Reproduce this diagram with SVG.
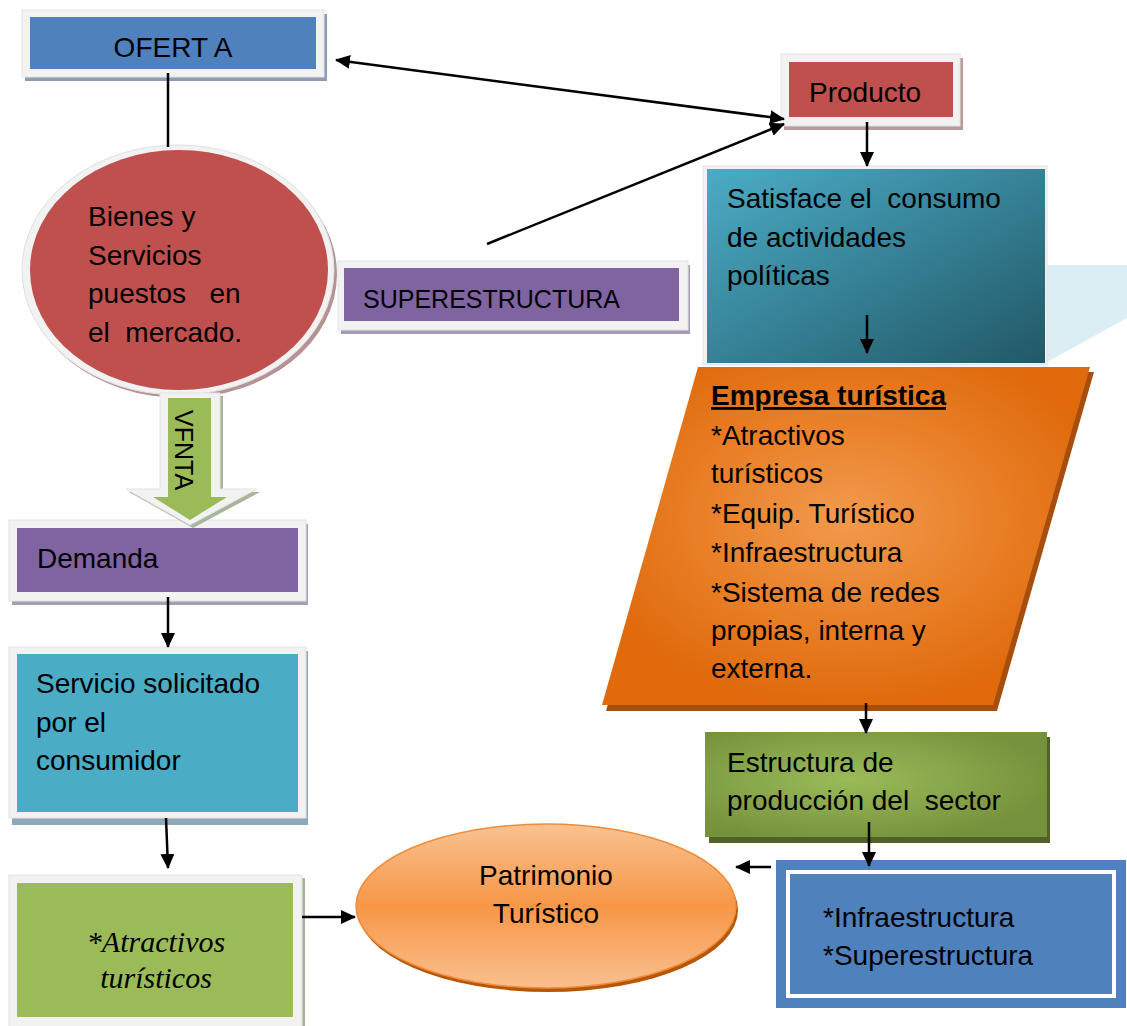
<svg xmlns="http://www.w3.org/2000/svg" width="1127" height="1026" viewBox="0 0 1127 1026">
<style>
text{font-family:"Liberation Sans",Arial,sans-serif;font-size:28px;fill:#000;white-space:pre}
.up{font-size:25px}
.it{font-family:"Liberation Serif","Times New Roman",serif;font-style:italic;font-size:30px}
.frame{fill:#f2f2f2;stroke:#e3e3e3;stroke-width:1}
.conn{stroke:#000;stroke-width:2.5;fill:none}
</style>
<defs>
<marker id="ah" markerUnits="userSpaceOnUse" markerWidth="15" markerHeight="14" refX="14" refY="7" orient="auto-start-reverse" viewBox="0 0 15 14">
<path d="M0,0 L15,7 L0,14 z" fill="#000"/>
</marker>
<linearGradient id="gSat" x1="0" y1="0" x2="1" y2="1">
<stop offset="0" stop-color="#4bacc6"/>
<stop offset="1" stop-color="#215867"/>
</linearGradient>
<radialGradient id="gEmp" cx="0.5" cy="0.45" r="0.55">
<stop offset="0" stop-color="#f29a4d"/>
<stop offset="0.6" stop-color="#e87d24"/>
<stop offset="1" stop-color="#e06a0c"/>
</radialGradient>
<radialGradient id="gEst" cx="0.42" cy="0.45" r="0.6">
<stop offset="0" stop-color="#9bbb59"/>
<stop offset="1" stop-color="#76923c"/>
</radialGradient>
<linearGradient id="gPat" x1="0" y1="0" x2="0" y2="1">
<stop offset="0" stop-color="#f9c292"/>
<stop offset="0.5" stop-color="#f79646"/>
<stop offset="1" stop-color="#fabf8f"/>
</linearGradient>
</defs>

<g id="node-oferta">
<rect x="25" y="14" width="302" height="67" fill="#8e9cb2"/>
<rect class="frame" x="22" y="10" width="302" height="67"/>
<rect x="30" y="17" width="286" height="52" fill="#4f81bd"/>
<text x="173" y="57" text-anchor="middle" font-size="26">OFERT A</text>
</g>

<g id="node-producto">
<rect x="784" y="58" width="179" height="72" fill="#b89a9b"/>
<rect class="frame" x="781" y="54" width="179" height="72"/>
<rect x="789" y="62" width="164" height="55" fill="#c0504d"/>
<text x="809" y="102">Producto</text>
</g>

<g id="node-satisface">
<polygon points="1047,265 1127,265 1127,318 1047,362" fill="#dbeef4"/>
<rect class="frame" x="703" y="166" width="344" height="199"/>
<rect x="707" y="169" width="338" height="194" fill="url(#gSat)"/>
<text x="727" y="208">Satisface el  consumo</text>
<text x="727" y="247">de actividades</text>
<text x="727" y="285">políticas</text>
</g>

<g id="node-superestructura">
<rect x="341" y="265" width="349" height="69" fill="#a49bb2"/>
<rect class="frame" x="338" y="261" width="350" height="69"/>
<rect x="344" y="268" width="335" height="53" fill="#8064a2"/>
<text class="up" x="363" y="308">SUPERESTRUCTURA</text>
</g>

<g id="node-bienes">
<ellipse cx="181" cy="274" rx="156" ry="124" fill="#b59293"/>
<ellipse cx="178" cy="270" rx="156" ry="125" fill="#f2f2f2" stroke="#e0e0e0"/>
<ellipse cx="179" cy="270" rx="149" ry="120" fill="#c0504d"/>
<text x="88" y="226">Bienes y</text>
<text x="88" y="265">Servicios</text>
<text x="88" y="303">puestos   en</text>
<text x="88" y="342">el  mercado.</text>
</g>

<g id="node-empresa">
<polygon points="702,372 1094,372 997,711 606,711" fill="#a54e0d"/>
<polygon points="698,367 1090,367 993,705 602,705" fill="url(#gEmp)"/>
<text x="711" y="405" font-weight="bold" text-decoration="underline">Empresa turística</text>
<text x="711" y="445">*Atractivos</text>
<text x="711" y="483">turísticos</text>
<text x="711" y="523">*Equip. Turístico</text>
<text x="711" y="562">*Infraestructura</text>
<text x="711" y="602">*Sistema de redes</text>
<text x="711" y="640">propias, interna y</text>
<text x="711" y="678">externa.</text>
</g>

<g id="node-estructura">
<rect x="709" y="737" width="341" height="106" fill="#4f6228"/>
<rect x="705" y="732" width="342" height="105" fill="url(#gEst)"/>
<text x="727" y="772">Estructura de</text>
<text x="727" y="810">producción del  sector</text>
</g>

<g id="node-infra">
<rect x="776" y="860" width="350" height="148" fill="#4f81bd"/>
<rect x="788" y="872" width="326" height="124" fill="#4f81bd" stroke="#ffffff" stroke-width="4"/>
<text x="823" y="927">*Infraestructura</text>
<text x="823" y="965">*Superestructura</text>
</g>

<g id="node-patrimonio">
<ellipse cx="548" cy="910" rx="190" ry="82" fill="#b65708"/>
<ellipse cx="546" cy="906" rx="190" ry="82" fill="url(#gPat)" stroke="#f08c3a" stroke-width="1.5"/>
<text x="546" y="885" text-anchor="middle">Patrimonio</text>
<text x="546" y="923" text-anchor="middle">Turístico</text>
</g>

<g id="node-demanda">
<rect x="12" y="524" width="296" height="81" fill="#a69db6"/>
<rect class="frame" x="9" y="520" width="297" height="81"/>
<rect x="17" y="528" width="281" height="64" fill="#8064a2"/>
<text x="37" y="568">Demanda</text>
</g>

<g id="node-servicio">
<rect x="12" y="651" width="296" height="174" fill="#8eaab8"/>
<rect class="frame" x="9" y="647" width="297" height="171"/>
<rect x="17" y="654" width="281" height="158" fill="#4bacc6"/>
<text x="36" y="693">Servicio solicitado</text>
<text x="36" y="732">por el</text>
<text x="36" y="770">consumidor</text>
</g>

<g id="node-atractivos">
<rect x="12" y="878" width="293" height="152" fill="#a8b29c"/>
<rect class="frame" x="9" y="875" width="293" height="155"/>
<rect x="17" y="883" width="276" height="134" fill="#9bbb59"/>
<text class="it" x="156" y="952" text-anchor="middle">*Atractivos</text>
<text class="it" x="156" y="988" text-anchor="middle">turísticos</text>
</g>

<g id="connectors">
<g id="venta-arrow">
<polygon points="163,396 223,396 223,492 260,492 193,528 129,492 163,492" fill="#a7b59a"/>
<polygon points="160,393 220,393 220,489 257,489 190,525 126,489 160,489" fill="#f2f2f2" stroke="#e3e3e3"/>
<polygon points="168,398 211,398 211,497 227,497 190,520 153,497 168,497" fill="#9bbb59"/>
<text class="up" transform="translate(175,410) rotate(90)">VFNTA</text>
</g>
<line class="conn" x1="336" y1="60" x2="784" y2="119" marker-start="url(#ah)" marker-end="url(#ah)"/>
<line class="conn" x1="487" y1="244" x2="784" y2="124" marker-end="url(#ah)"/>
<line class="conn" x1="168" y1="73" x2="168" y2="147"/>
<line class="conn" x1="867" y1="122" x2="867" y2="166" marker-end="url(#ah)"/>
<line class="conn" x1="867" y1="315" x2="867" y2="353" marker-end="url(#ah)"/>
<line class="conn" x1="866" y1="703" x2="866" y2="733" marker-end="url(#ah)"/>
<line class="conn" x1="869" y1="822" x2="869" y2="866" marker-end="url(#ah)"/>
<line class="conn" x1="771" y1="867" x2="736" y2="867" marker-end="url(#ah)"/>
<line class="conn" x1="168" y1="597" x2="168" y2="647" marker-end="url(#ah)"/>
<line class="conn" x1="166" y1="818" x2="168" y2="868" marker-end="url(#ah)"/>
<line class="conn" x1="302" y1="917" x2="355" y2="917" marker-end="url(#ah)"/>
</g>
</svg>
